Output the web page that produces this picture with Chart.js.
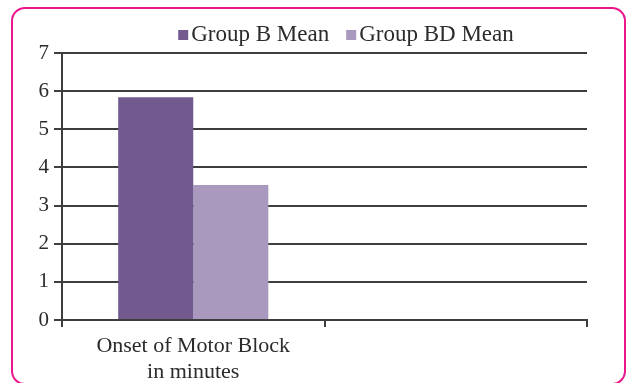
<!DOCTYPE html>
<html>
<head>
<meta charset="utf-8">
<script src="https://cdn.jsdelivr.net/npm/chart.js@4"></script>
<style>
  html, body { margin: 0; padding: 0; background: #ffffff; }
  #wrap { position: relative; width: 626px; height: 383px; overflow: hidden; }
  #frame {
    position: absolute; left: 11px; top: 7px; width: 615px; height: 378px;
    border: 2px solid #ec168c; border-radius: 14px; box-sizing: border-box;
  }
  canvas { position: absolute; left: 0; top: 0; }
</style>
</head>
<body>
<div id="wrap">
  <div id="frame"></div>
  <canvas id="c" width="626" height="383"></canvas>
</div>
<script>
// Onset of motor block (minutes), mean per group
const categories = [["Onset of Motor Block", "in minutes"], ""];
const groupBMean = [5.84, null];
const groupBDMean = [3.54, null];
const yTicks = [0, 1, 2, 3, 4, 5, 6, 7];

const seriesNames = ["Group B Mean", "Group BD Mean"];
const seriesColors = ["#725a8f", "#a999be"];

const FONT = "'Liberation Serif', 'Times New Roman', serif";
const TEXT = "#2b2b2b";
const GRID = "#3e3e3e";

// Legend drawn above the plot: square swatch followed by the series name
const topLegend = {
  id: "topLegend",
  afterDraw(chart) {
    const ctx = chart.ctx;
    ctx.save();
    ctx.font = "23px " + FONT;
    ctx.textBaseline = "middle";
    const box = 10, gap = 3, itemGap = 17;
    const widths = chart.data.datasets.map(d => box + gap + ctx.measureText(d.label).width);
    const total = widths.reduce((a, b) => a + b, 0) + itemGap * (widths.length - 1);
    let x = 346 - total / 2;
    const cy = 34;
    chart.data.datasets.forEach((d, i) => {
      ctx.fillStyle = d.backgroundColor;
      ctx.fillRect(x, cy - 4, box, box);
      ctx.fillStyle = TEXT;
      ctx.textAlign = "left";
      ctx.fillText(d.label, x + box + gap, cy + 1);
      x += widths[i] + itemGap;
    });
    ctx.restore();
  }
};

new Chart(document.getElementById("c"), {
  type: "bar",
  data: {
    labels: categories,
    datasets: [
      { label: seriesNames[0], data: groupBMean, backgroundColor: seriesColors[0] },
      { label: seriesNames[1], data: groupBDMean, backgroundColor: seriesColors[1] }
    ]
  },
  options: {
    responsive: false,
    animation: false,
    devicePixelRatio: 1,
    layout: { padding: { left: 0, right: 39, top: 53, bottom: 0 } },
    datasets: { bar: { categoryPercentage: 0.572, barPercentage: 1.0 } },
    plugins: { legend: { display: false }, tooltip: { enabled: false } },
    scales: {
      x: {
        afterFit(scale) { scale.height = 63; },
        grid: { drawOnChartArea: false, offset: true, color: GRID, lineWidth: 2, tickLength: 7 },
        border: { color: GRID, width: 2 },
        ticks: { color: TEXT, font: { family: FONT, size: 22, lineHeight: 1.18 }, padding: 6, maxRotation: 0 }
      },
      y: {
        min: 0, max: 7,
        afterFit(scale) { scale.width = 62; },
        afterBuildTicks(scale) { scale.ticks = yTicks.map(v => ({ value: v })); },
        grid: { color: GRID, lineWidth: 2, tickLength: 8 },
        border: { color: GRID, width: 2 },
        ticks: { color: TEXT, font: { family: FONT, size: 21 }, padding: 5 }
      }
    }
  },
  plugins: [topLegend]
});
</script>
</body>
</html>
